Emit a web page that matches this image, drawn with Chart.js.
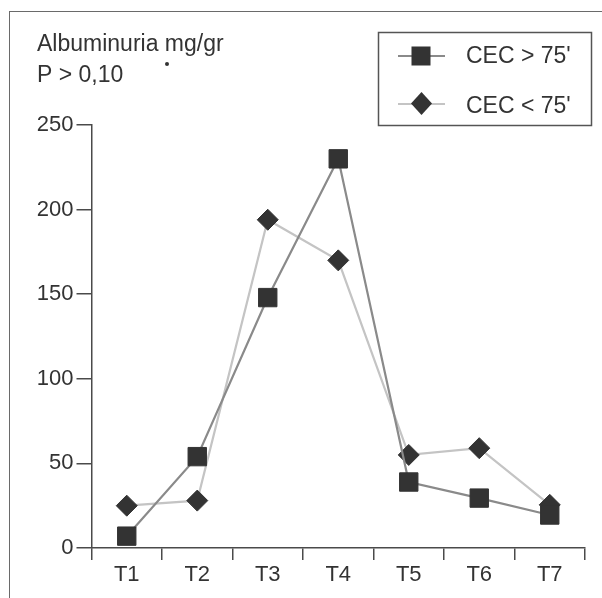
<!DOCTYPE html>
<html>
<head>
<meta charset="utf-8">
<script src="https://cdn.jsdelivr.net/npm/chart.js@4/dist/chart.umd.min.js"></script>
<style>
  html, body { margin: 0; padding: 0; background: #fff; }
  #wrap { position: relative; width: 602px; height: 598px; }
  #frame { position: absolute; left: 9px; top: 11px; right: -5px; bottom: -5px;
           border-left: 1.5px solid #6a6a6a; border-top: 1.5px solid #6a6a6a; pointer-events: none; }
  canvas { position: absolute; left: 0; top: 0; }
</style>
</head>
<body>
<div id="wrap">
  <canvas id="c" width="602" height="598"></canvas>
  <div id="frame"></div>
</div>
<script>
const categories = ['T1', 'T2', 'T3', 'T4', 'T5', 'T6', 'T7'];
const cecOver75 = [7, 54, 148, 230, 39, 29.5, 19.5];
const cecUnder75 = [25, 28, 194, 170, 55, 59, 25.5];
const seriesNames = ["CEC > 75'", "CEC < 75'"];
const titleLines = ['Albuminuria mg/gr', 'P > 0,10'];
const yTicks = [0, 50, 100, 150, 200, 250];

const FONT = "'Liberation Sans', Arial, Helvetica, sans-serif";
const TEXT = '#333333';
const AXIS = '#4a4a4a';
const DARK_LINE = '#8a8a8a';
const LIGHT_LINE = '#c4c4c4';
const MARK = '#333333';

const overlay = {
  id: 'overlay',
  afterDraw(chart) {
    const ctx = chart.ctx;
    ctx.save();
    // title
    ctx.fillStyle = TEXT;
    ctx.font = '23px ' + FONT;
    ctx.textAlign = 'left';
    ctx.textBaseline = 'alphabetic';
    ctx.fillText(titleLines[0], 37, 51);
    ctx.fillText(titleLines[1], 37, 82);
    // stray dot
    ctx.beginPath();
    ctx.arc(167, 64, 2, 0, Math.PI * 2);
    ctx.fill();
    // legend box
    ctx.strokeStyle = '#555';
    ctx.lineWidth = 1.5;
    ctx.strokeRect(378.5, 32.5, 213, 93);
    // entry 1
    ctx.strokeStyle = DARK_LINE;
    ctx.lineWidth = 2.2;
    ctx.beginPath(); ctx.moveTo(398, 56); ctx.lineTo(445, 56); ctx.stroke();
    ctx.fillStyle = MARK;
    ctx.fillRect(421 - 9.5, 56 - 9.5, 19, 19);
    // entry 2
    ctx.strokeStyle = LIGHT_LINE;
    ctx.beginPath(); ctx.moveTo(398, 104); ctx.lineTo(445, 104); ctx.stroke();
    ctx.beginPath();
    ctx.moveTo(421.5, 92); ctx.lineTo(432, 103.5); ctx.lineTo(421.5, 115); ctx.lineTo(411, 103.5);
    ctx.closePath(); ctx.fill();
    // legend text
    ctx.fillStyle = TEXT;
    ctx.font = '23px ' + FONT;
    ctx.fillText(seriesNames[0], 466, 63);
    ctx.fillText(seriesNames[1], 466, 113);
    ctx.restore();
  }
};

new Chart(document.getElementById('c'), {
  type: 'line',
  data: {
    labels: categories,
    datasets: [
      {
        label: seriesNames[0],
        data: cecOver75,
        borderColor: DARK_LINE,
        borderWidth: 2.2,
        backgroundColor: MARK,
        pointStyle: 'rect',
        pointRadius: 13,
        pointBackgroundColor: MARK,
        pointBorderColor: MARK,
        pointBorderWidth: 1,
        tension: 0
      },
      {
        label: seriesNames[1],
        data: cecUnder75,
        borderColor: LIGHT_LINE,
        borderWidth: 2.2,
        backgroundColor: MARK,
        pointStyle: 'rectRot',
        pointRadius: 10.5,
        pointBackgroundColor: MARK,
        pointBorderColor: MARK,
        pointBorderWidth: 1,
        tension: 0
      }
    ]
  },
  options: {
    responsive: false,
    animation: false,
    devicePixelRatio: 1,
    layout: { padding: { left: 0, top: 125, right: 17, bottom: 0 } },
    plugins: { legend: { display: false }, title: { display: false }, tooltip: { enabled: false } },
    scales: {
      x: {
        type: 'category',
        offset: true,
        grid: { offset: true, drawOnChartArea: false, drawTicks: true, tickLength: 12, color: AXIS, lineWidth: 1.5 },
        border: { display: true, color: AXIS, width: 1.5 },
        ticks: { color: TEXT, font: { family: FONT, size: 22 }, padding: 2, maxRotation: 0, autoSkip: false },
        afterFit(scale) { scale.height = 50; }
      },
      y: {
        min: 0,
        max: 250,
        afterBuildTicks(scale) { scale.ticks = yTicks.map(v => ({ value: v })); },
        grid: { drawOnChartArea: false, drawTicks: true, tickLength: 15, color: AXIS, lineWidth: 1.5 },
        border: { display: true, color: AXIS, width: 1.5 },
        ticks: { color: TEXT, font: { family: FONT, size: 22 }, padding: 3 },
        afterFit(scale) { scale.width = 91.5; }
      }
    }
  },
  plugins: [overlay]
});
</script>
</body>
</html>
